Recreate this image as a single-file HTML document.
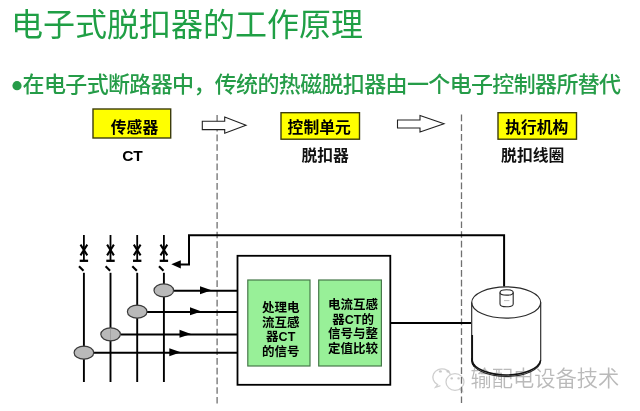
<!DOCTYPE html>
<html lang="zh-CN">
<head>
<meta charset="utf-8">
<title>电子式脱扣器的工作原理</title>
<style>
html,body{margin:0;padding:0;background:#fff;}
body{width:640px;height:411px;overflow:hidden;}
svg{display:block;will-change:transform;}
text{font-family:"Liberation Sans","Noto Sans CJK SC",sans-serif;}
.t{fill:#1f9f45;font-size:32px;font-weight:400;}
.s{fill:#259c48;font-size:22px;font-weight:500;}
.lb{font-size:15.8px;font-weight:700;fill:#000;}
.sub{font-size:15.8px;font-weight:700;fill:#111;}
.g{font-size:12.5px;font-weight:700;fill:#000;text-anchor:middle;}
.ln{stroke:#000;stroke-width:2;fill:none;}
.wm{font-size:21.25px;font-weight:350;fill:#bababa;}
</style>
</head>
<body>
<svg width="640" height="411" viewBox="0 0 640 411">
<rect width="640" height="411" fill="#fff"/>

<!-- headings -->
<text class="t" x="11" y="36.3">电子式脱扣器的工作原理</text>
<circle cx="17" cy="85.7" r="4.6" fill="#259c48"/>
<text class="s" x="22.6" y="92.4" textLength="598.5" lengthAdjust="spacing">在电子式断路器中，传统的热磁脱扣器由一个电子控制器所替代</text>

<!-- watermark -->
<g fill="none" stroke="#cfcfcf" stroke-width="1.3" stroke-linecap="round">
  <path d="M437.6 384.6 A9 8.4 0 1 1 450.6 379.2"/>
  <path d="M437.6 384.6 L435.6 387.2 L440 385.8"/>
  <ellipse cx="455" cy="382" rx="9" ry="8.3" fill="#fff"/>
  <path d="M459.5 389.3 L462.6 391.3 L461.8 388"/>
</g>
<g fill="#c8c8c8">
  <ellipse cx="440.4" cy="371.4" rx="1.5" ry="1.2"/><ellipse cx="448" cy="371.4" rx="1.5" ry="1.2"/>
  <ellipse cx="451.7" cy="378.4" rx="1.3" ry="1.1"/><ellipse cx="458.6" cy="378.4" rx="1.3" ry="1.1"/>
</g>
<text class="wm" x="470.6" y="386.1">输配电设备技术</text>

<!-- dashed separators -->
<line x1="217.1" y1="115" x2="217.1" y2="403.8" stroke="#707070" stroke-width="1.3" stroke-dasharray="6.7 3.02"/>
<line x1="461.5" y1="114.5" x2="461.5" y2="403.3" stroke="#707070" stroke-width="1.3" stroke-dasharray="6.7 3.02"/>

<!-- yellow labels -->
<rect x="93" y="109" width="77.7" height="29" fill="#ffff00" stroke="#3c3c0c" stroke-width="1.4"/>
<text class="lb" x="134.5" y="133" text-anchor="middle">传感器</text>
<text class="lb" x="132.5" y="160.8" text-anchor="middle" style="font-size:15.5px">CT</text>

<rect x="281" y="112.7" width="78.5" height="26.5" fill="#ffff00" stroke="#3c3c0c" stroke-width="1.4"/>
<text class="lb" x="319.2" y="133" text-anchor="middle">控制单元</text>
<text class="sub" x="325.2" y="161" text-anchor="middle">脱扣器</text>

<rect x="498" y="112.7" width="78.5" height="26.5" fill="#ffff00" stroke="#3c3c0c" stroke-width="1.4"/>
<text class="lb" x="536.8" y="133" text-anchor="middle">执行机构</text>
<text class="sub" x="532.7" y="161" text-anchor="middle">脱扣线圈</text>

<!-- hollow arrows -->
<path d="M202.3 121.3 H224.7 V117 L246 125.2 L224.7 133.3 V129.6 H202.3 Z" fill="#fff" stroke="#222" stroke-width="1.1"/>
<path d="M397.5 120 H420 V115.6 L444 123.8 L420 132 V128 H397.5 Z" fill="#fff" stroke="#222" stroke-width="1.1"/>

<!-- breaker poles -->
<g class="ln">
  <g transform="translate(0,0)">
    <path d="M83.9 235 V260.5" stroke-width="1.8"/>
    <path d="M80.5 244.6 L87.3 255.4 M87.3 244.6 L80.5 255.4" stroke-width="2"/>
    <path d="M79.7 260.8 H88.1" stroke-width="2.3"/>
    <path d="M79 266.2 L83.5 270.7" stroke-width="2.1"/>
    <path d="M83.9 272.8 V382" stroke-width="1.9"/>
  </g>
  <g transform="translate(26.6,0)">
    <path d="M83.9 235 V260.5" stroke-width="1.8"/>
    <path d="M80.5 244.6 L87.3 255.4 M87.3 244.6 L80.5 255.4" stroke-width="2"/>
    <path d="M79.7 260.8 H88.1" stroke-width="2.3"/>
    <path d="M79 266.2 L83.5 270.7" stroke-width="2.1"/>
    <path d="M83.9 272.8 V382" stroke-width="1.9"/>
  </g>
  <g transform="translate(53.3,0)">
    <path d="M83.9 235 V260.5" stroke-width="1.8"/>
    <path d="M80.5 244.6 L87.3 255.4 M87.3 244.6 L80.5 255.4" stroke-width="2"/>
    <path d="M79.7 260.8 H88.1" stroke-width="2.3"/>
    <path d="M79 266.2 L83.5 270.7" stroke-width="2.1"/>
    <path d="M83.9 272.8 V382" stroke-width="1.9"/>
  </g>
  <g transform="translate(80,0)">
    <path d="M83.9 235 V260.5" stroke-width="1.8"/>
    <path d="M80.5 244.6 L87.3 255.4 M87.3 244.6 L80.5 255.4" stroke-width="2"/>
    <path d="M79.7 260.8 H88.1" stroke-width="2.3"/>
    <path d="M79 266.2 L83.5 270.7" stroke-width="2.1"/>
    <path d="M83.9 272.8 V382" stroke-width="1.9"/>
  </g>
</g>

<!-- CT signal lines -->
<g class="ln">
  <path d="M174 290.8 H237"/>
  <path d="M147 311.9 H237"/>
  <path d="M120.5 334.4 H237"/>
  <path d="M94 352.8 H237"/>
</g>
<g fill="#000">
  <path d="M200 286.2 L211.5 290.3 L200 294.2 Z"/>
  <path d="M190 307.3 L201.5 311.4 L190 315.3 Z"/>
  <path d="M179.5 329.8 L191 333.9 L179.5 337.8 Z"/>
  <path d="M169.3 348.2 L180.8 352.3 L169.3 356.2 Z"/>
</g>
<g fill="#b9b9b9" stroke="#3a3a3a" stroke-width="1.2">
  <ellipse cx="163.8" cy="290.4" rx="9.8" ry="6.5"/>
  <ellipse cx="137.2" cy="311.7" rx="9.8" ry="6.5"/>
  <ellipse cx="110.6" cy="334.3" rx="9.8" ry="6.5"/>
  <ellipse cx="83.9" cy="352.7" rx="9.8" ry="6.5"/>
</g>

<path d="M110.5 328.6 V340" stroke="#9c9c9c" stroke-width="0.9" fill="none"/>

<!-- feedback path -->
<path class="ln" d="M504.1 286.5 V235.3 H189 V264.6 H180" stroke-width="1.7"/>
<path d="M180.8 260.2 L171.3 264.3 L180.8 268.4 Z" fill="#000"/>

<!-- controller box -->
<rect x="237.5" y="255.8" width="152.8" height="129" fill="#fff" stroke="#000" stroke-width="1.8"/>
<rect x="247.8" y="280" width="62.2" height="86" fill="#98f098" stroke="#47784a" stroke-width="1.2"/>
<rect x="318.7" y="280" width="62.7" height="86" fill="#98f098" stroke="#47784a" stroke-width="1.2"/>
<text class="g" x="280.7" y="311.9">处理电</text>
<text class="g" x="280.7" y="326.5">流互感</text>
<text class="g" x="280.7" y="341.2">器CT</text>
<text class="g" x="280.7" y="355.9">的信号</text>
<text class="g" x="353.1" y="308.6">电流互感</text>
<text class="g" x="353.1" y="323.5">器CT的</text>
<text class="g" x="353.1" y="338.4">信号与整</text>
<text class="g" x="353.1" y="353.3">定值比较</text>

<!-- output to coil -->
<path class="ln" d="M390.5 323 H471"/>

<!-- coil cylinder -->
<g fill="none" stroke="#2a2a2a" stroke-width="1.15">
  <path d="M471.7 302.5 V360.3 A34.5 16.1 0 0 0 540.7 360.3 V302.5"/>
  <path d="M471.9 358 V360.3 A34.5 16.1 0 0 0 540.6 360.3" stroke-width="1.5" stroke="#111"/>
  <ellipse cx="506.2" cy="302.5" rx="34.5" ry="15.7"/>
  <path d="M500 292.4 V304 A6.6 2.8 0 0 0 513.2 304 V292.4" stroke-width="1.1"/>
  <ellipse cx="506.6" cy="292.4" rx="6.6" ry="2.7" stroke-width="1.1"/>
</g>
<path d="M472.2 335 V360.3 A35 16.2 0 0 0 474.5 366.5" stroke="#111" stroke-width="1.7" fill="none"/>
<path d="M504 300.6 H509.4" stroke="#bbb" stroke-width="1" fill="none"/>

</svg>
</body>
</html>
